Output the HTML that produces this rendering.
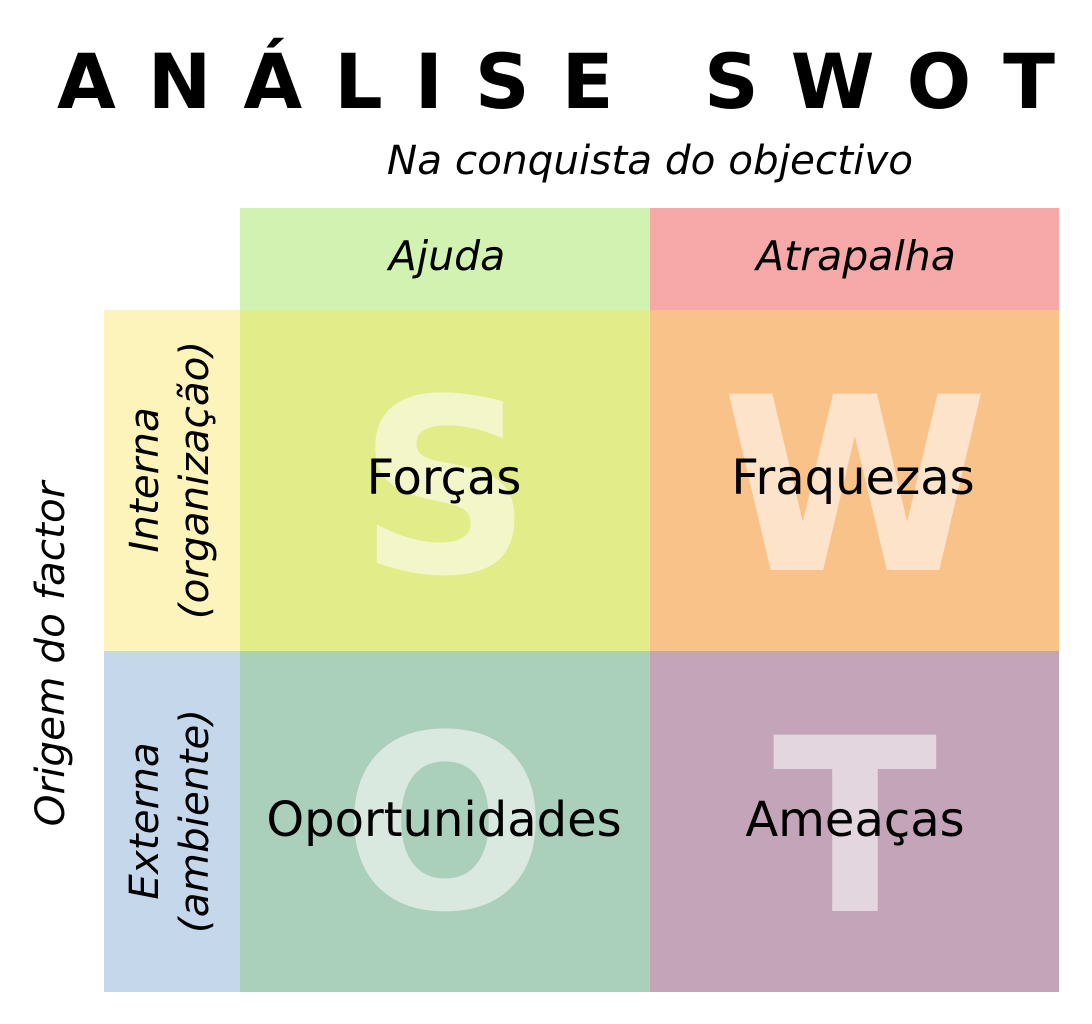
<!DOCTYPE html>
<html><head><meta charset="utf-8"><style>
html,body{margin:0;padding:0;background:#fff;}
svg{display:block;}
text{font-family:"DejaVu Sans","Liberation Sans",sans-serif;}
</style></head><body>
<svg width="1092" height="1024" viewBox="0 0 1092 1024" xmlns="http://www.w3.org/2000/svg">
<rect width="1092" height="1024" fill="#fff"/>
<text x="572" y="108" text-anchor="middle" font-size="76" font-weight="bold" letter-spacing="32">ANÁLISE SWOT</text>
<text x="650" y="174" text-anchor="middle" font-size="40.5" font-style="italic">Na conquista do objectivo</text>
<rect x="240" y="208" width="410" height="102" fill="#d1f2b0"/>
<rect x="650" y="208" width="409" height="102" fill="#f7a9a9"/>
<rect x="104" y="310" width="136" height="341" fill="#fdf4bc"/>
<rect x="104" y="651" width="136" height="341" fill="#c5d7eb"/>
<rect x="240" y="310" width="410" height="341" fill="#e2ec88"/>
<rect x="650" y="310" width="409" height="341" fill="#f9c288"/>
<rect x="240" y="651" width="410" height="341" fill="#aacfba"/>
<rect x="650" y="651" width="409" height="341" fill="#c4a4b8"/>
<text x="447" y="270" text-anchor="middle" font-size="41" font-style="italic">Ajuda</text>
<text x="856" y="270" text-anchor="middle" font-size="41" font-style="italic">Atrapalha</text>
<g fill="#fff" fill-opacity="0.55" font-weight="bold" font-size="242" text-anchor="middle">
<text x="445" y="572">S</text>
<text x="855" y="570">W</text>
<text x="445" y="908">O</text>
<text x="855" y="911">T</text>
</g>
<g font-size="48" text-anchor="middle">
<text x="444" y="494">Forças</text>
<text x="853" y="494">Fraquezas</text>
<text x="444" y="836">Oportunidades</text>
<text x="855" y="836">Ameaças</text>
</g>
<g font-size="40.5" font-style="italic" text-anchor="middle">
<text transform="translate(158,480) rotate(-90)">Interna</text>
<text transform="translate(208,480) rotate(-90)">(organização)</text>
<text transform="translate(158,821) rotate(-90)">Externa</text>
<text transform="translate(208,821) rotate(-90)">(ambiente)</text>
<text transform="translate(64,654) rotate(-90)">Origem do factor</text>
</g>
</svg>
</body></html>
